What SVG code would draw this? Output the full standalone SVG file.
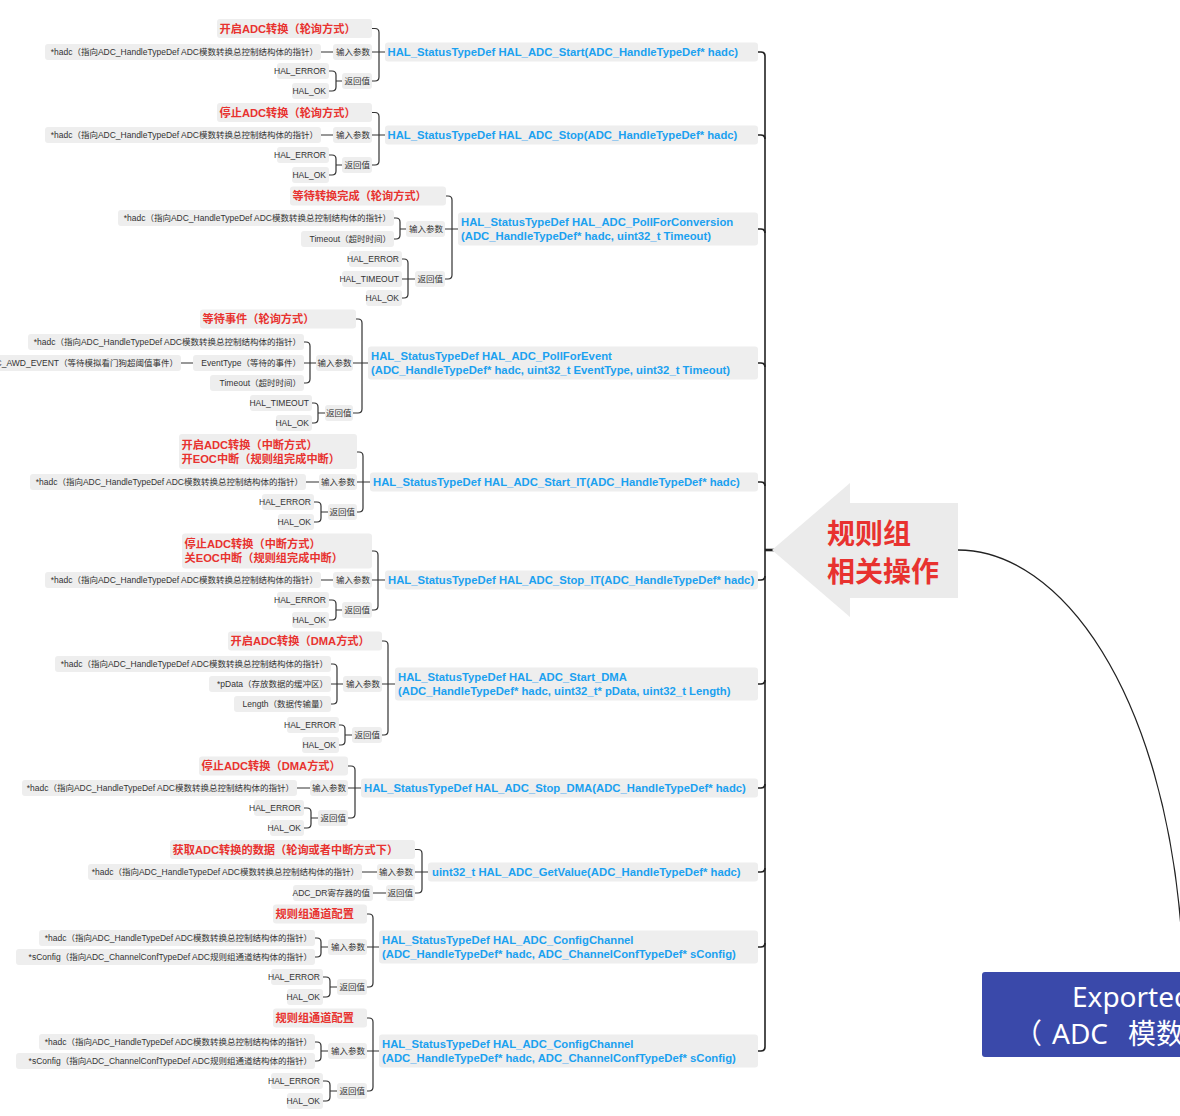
<svg xmlns="http://www.w3.org/2000/svg" width="1180" height="1116" viewBox="0 0 1180 1116">
<style>
.b{fill:#eeeeee}
.s{font-family:"Liberation Sans","Noto Sans CJK SC",sans-serif;font-size:8.5px;fill:#333;text-anchor:end}
.r{font-family:"Liberation Sans","Noto Sans CJK SC",sans-serif;font-size:11.2px;font-weight:bold;fill:#e8322f}
.f{font-family:"Liberation Sans","Noto Sans CJK SC",sans-serif;font-size:11.3px;font-weight:bold;fill:#1ba1f0}
.c{fill:none;stroke:#333;stroke-width:1.2}
.sp{fill:none;stroke:#222;stroke-width:1.6}
</style>
<rect width="1180" height="1116" fill="#ffffff"/>

<g id="connectors">
<path class="c" d="M321,52H333M329,71H332Q336,71 336,75V87Q336,91 332,91H329M336,81H342M372,28.5H375Q379,28.5 379,32.5V77Q379,81 375,81H372M372,52H385"/>
<path class="c" d="M321,135H333M329,155H332Q336,155 336,159V171Q336,175 332,175H329M336,165H342M372,112.5H375Q379,112.5 379,116.5V161Q379,165 375,165H372M372,135H385"/>
<path class="c" d="M394,218H396Q400,218 400,222V235Q400,239 396,239H394M400,229H406M402,259H404Q408,259 408,263V294Q408,298 404,298H402M402,279H415M446,196H448Q452,196 452,200V275Q452,279 448,279H445M445,229H458"/>
<path class="c" d="M181,363H193M304,342H306Q310,342 310,346V379Q310,383 306,383H304M304,363H316M312,403H314Q318,403 318,407V419Q318,423 314,423H312M318,413H325M356,319H358Q362,319 362,323V409Q362,413 358,413H353M353,363H368"/>
<path class="c" d="M306,482H319M314,502H317Q321,502 321,506V518Q321,522 317,522H314M321,512H328M357,452H359Q363,452 363,456V508Q363,512 359,512H357M357,482H370"/>
<path class="c" d="M321,580H333M329,600H332Q336,600 336,604V616Q336,620 332,620H329M336,610H342M372,551H374Q378,551 378,555V606Q378,610 374,610H372M372,580H385"/>
<path class="c" d="M331,664H333Q337,664 337,668V700Q337,704 333,704H331M331,684H343M339,725H341Q345,725 345,729V741Q345,745 341,745H339M345,735H352M382,641H384Q388,641 388,645V731Q388,735 384,735H382M382,684H395"/>
<path class="c" d="M297,788H310M304,808H307Q311,808 311,812V824Q311,828 307,828H304M311,818H318M348,766H351Q355,766 355,770V814Q355,818 351,818H348M348,788H361"/>
<path class="c" d="M362,872H377M373,893H386M415,849.5H418Q422,849.5 422,853.5V889Q422,893 418,893H415M415,872H428"/>
<path class="c" d="M315,938H317Q321,938 321,942V953Q321,957 317,957H315M321,947H328M323,977H326Q330,977 330,981V993Q330,997 326,997H323M330,987H337M367,914H369Q373,914 373,918V983Q373,987 369,987H367M367,947H379"/>
<path class="c" d="M315,1042H317Q321,1042 321,1046V1057Q321,1061 317,1061H315M321,1051H328M323,1081H326Q330,1081 330,1085V1097Q330,1101 326,1101H323M330,1091H337M367,1018H369Q373,1018 373,1022V1087Q373,1091 369,1091H367M367,1051H379"/>
<path class="sp" d="M758,52H761Q765,52 765,56V1047Q765,1051 761,1051H758"/>
<path class="sp" d="M758,135H761Q765,135 765,139M758,229H761Q765,229 765,233M758,363H761Q765,363 765,367M758,482H761Q765,482 765,486"/>
<path class="sp" d="M758,580H761Q765,580 765,576M758,684H761Q765,684 765,680M758,788H761Q765,788 765,784M758,872H761Q765,872 765,868M758,947H761Q765,947 765,943"/>
<path d="M765,550H775" fill="none" stroke="#222" stroke-width="2.6"/>
<path d="M958,550C1060,550 1165,690 1182,940" fill="none" stroke="#222" stroke-width="1.3"/>
</g>

<g id="topic">
<polygon points="772,550 850,483 850,503 958,503 958,598 850,598 850,617" fill="#ebebeb"/>
<text x="827" y="544" font-family="Liberation Sans,'Noto Sans CJK SC',sans-serif" font-size="28" font-weight="bold" fill="#e8322f">规则组</text>
<text x="827" y="582" font-family="Liberation Sans,'Noto Sans CJK SC',sans-serif" font-size="28" font-weight="bold" fill="#e8322f">相关操作</text>
</g>

<g id="root">
<rect x="982" y="972" width="260" height="85" rx="3" fill="#3a49aa"/>
<text x="1072" y="1007" font-family="'Noto Sans','Noto Sans CJK SC',sans-serif" font-size="28" fill="#ffffff">Exported</text>
<text y="1044" font-family="'Noto Sans','Noto Sans CJK SC',sans-serif" font-size="28" fill="#ffffff"><tspan x="1014">（</tspan><tspan x="1052">ADC</tspan><tspan x="1128">模数</tspan></text>
</g>

<!-- G1 -->
<g id="g1-title"><rect class="b" x="217" y="19" width="155" height="19" rx="3"/><text class="r" x="219.5" y="32.6">开启ADC转换（轮询方式）</text></g>
<g id="g1-func"><rect class="b" x="385" y="42.5" width="373" height="19" rx="3"/><text class="f" x="387.5" y="56.2">HAL_StatusTypeDef HAL_ADC_Start(ADC_HandleTypeDef* hadc)</text></g>
<g id="g1-in"><rect class="b" x="333" y="44" width="39" height="16" rx="3"/><text class="s" x="370" y="55.1">输入参数</text></g>
<g id="g1-hadc"><rect class="b" x="45" y="44" width="276" height="16" rx="3"/><text class="s" x="318" y="55.1">*hadc（指向ADC_HandleTypeDef ADC模数转换总控制结构体的指针）</text></g>
<g id="g1-ret"><rect class="b" x="342" y="73" width="30" height="16" rx="3"/><text class="s" x="370" y="84.1">返回值</text></g>
<g id="g1-err"><rect class="b" x="277" y="63" width="52" height="16" rx="3"/><text class="s" x="326" y="74.1">HAL_ERROR</text></g>
<g id="g1-ok"><rect class="b" x="292" y="83" width="37" height="16" rx="3"/><text class="s" x="326" y="94.1">HAL_OK</text></g>

<!-- G2 -->
<g id="g2-title"><rect class="b" x="217" y="103" width="155" height="19" rx="3"/><text class="r" x="219.5" y="116.6">停止ADC转换（轮询方式）</text></g>
<g id="g2-func"><rect class="b" x="385" y="125.5" width="373" height="19" rx="3"/><text class="f" x="387.5" y="139.2">HAL_StatusTypeDef HAL_ADC_Stop(ADC_HandleTypeDef* hadc)</text></g>
<g id="g2-in"><rect class="b" x="333" y="127" width="39" height="16" rx="3"/><text class="s" x="370" y="138.1">输入参数</text></g>
<g id="g2-hadc"><rect class="b" x="45" y="127" width="276" height="16" rx="3"/><text class="s" x="318" y="138.1">*hadc（指向ADC_HandleTypeDef ADC模数转换总控制结构体的指针）</text></g>
<g id="g2-ret"><rect class="b" x="342" y="157" width="30" height="16" rx="3"/><text class="s" x="370" y="168.1">返回值</text></g>
<g id="g2-err"><rect class="b" x="277" y="147" width="52" height="16" rx="3"/><text class="s" x="326" y="158.1">HAL_ERROR</text></g>
<g id="g2-ok"><rect class="b" x="292" y="167" width="37" height="16" rx="3"/><text class="s" x="326" y="178.1">HAL_OK</text></g>

<!-- G3 -->
<g id="g3-title"><rect class="b" x="290" y="186.5" width="156" height="19" rx="3"/><text class="r" x="292.5" y="200.1">等待转换完成（轮询方式）</text></g>
<g id="g3-func"><rect class="b" x="458" y="212.5" width="300" height="33" rx="3"/><text class="f" x="461" y="226.2">HAL_StatusTypeDef HAL_ADC_PollForConversion</text><text class="f" x="461" y="240.2">(ADC_HandleTypeDef* hadc, uint32_t Timeout)</text></g>
<g id="g3-in"><rect class="b" x="406" y="221" width="39" height="16" rx="3"/><text class="s" x="443" y="232.1">输入参数</text></g>
<g id="g3-hadc"><rect class="b" x="118" y="210" width="276" height="16" rx="3"/><text class="s" x="391" y="221.1">*hadc（指向ADC_HandleTypeDef ADC模数转换总控制结构体的指针）</text></g>
<g id="g3-timeout"><rect class="b" x="301" y="231" width="93" height="16" rx="3"/><text class="s" x="391" y="242.1">Timeout（超时时间）</text></g>
<g id="g3-ret"><rect class="b" x="415" y="271" width="30" height="16" rx="3"/><text class="s" x="443" y="282.1">返回值</text></g>
<g id="g3-err"><rect class="b" x="349" y="251" width="53" height="16" rx="3"/><text class="s" x="399" y="262.1">HAL_ERROR</text></g>
<g id="g3-tmo"><rect class="b" x="342" y="271" width="60" height="16" rx="3"/><text class="s" x="399" y="282.1">HAL_TIMEOUT</text></g>
<g id="g3-ok"><rect class="b" x="366" y="290" width="36" height="16" rx="3"/><text class="s" x="399" y="301.1">HAL_OK</text></g>

<!-- G4 -->
<g id="g4-title"><rect class="b" x="200" y="309.5" width="156" height="19" rx="3"/><text class="r" x="202.5" y="323.1">等待事件（轮询方式）</text></g>
<g id="g4-func"><rect class="b" x="368" y="346.5" width="390" height="33" rx="3"/><text class="f" x="371" y="360.2">HAL_StatusTypeDef HAL_ADC_PollForEvent</text><text class="f" x="371" y="374.2">(ADC_HandleTypeDef* hadc, uint32_t EventType, uint32_t Timeout)</text></g>
<g id="g4-in"><rect class="b" x="316" y="355" width="37" height="16" rx="3"/><text class="s" x="351.5" y="366.1">输入参数</text></g>
<g id="g4-hadc"><rect class="b" x="28" y="334" width="276" height="16" rx="3"/><text class="s" x="301" y="345.1">*hadc（指向ADC_HandleTypeDef ADC模数转换总控制结构体的指针）</text></g>
<g id="g4-evt"><rect class="b" x="193" y="355" width="111" height="16" rx="3"/><text class="s" x="301" y="366.1">EventType（等待的事件）</text></g>
<g id="g4-awd"><rect class="b" x="-20" y="355" width="201" height="16" rx="3"/><text class="s" x="178" y="366.1">ADC_AWD_EVENT（等待模拟看门狗超阈值事件）</text></g>
<g id="g4-timeout"><rect class="b" x="210" y="375" width="94" height="16" rx="3"/><text class="s" x="301" y="386.1">Timeout（超时时间）</text></g>
<g id="g4-ret"><rect class="b" x="325" y="405" width="28" height="16" rx="3"/><text class="s" x="351.5" y="416.1">返回值</text></g>
<g id="g4-tmo"><rect class="b" x="250" y="395" width="62" height="16" rx="3"/><text class="s" x="309" y="406.1">HAL_TIMEOUT</text></g>
<g id="g4-ok"><rect class="b" x="276" y="415" width="36" height="16" rx="3"/><text class="s" x="309" y="426.1">HAL_OK</text></g>

<!-- G5 -->
<g id="g5-title"><rect class="b" x="179" y="434" width="178" height="35" rx="3"/><text class="r" x="181.5" y="449.1">开启ADC转换（中断方式）</text><text class="r" x="181.5" y="463.1">开EOC中断（规则组完成中断）</text></g>
<g id="g5-func"><rect class="b" x="370" y="472.5" width="388" height="19" rx="3"/><text class="f" x="373" y="486.2">HAL_StatusTypeDef HAL_ADC_Start_IT(ADC_HandleTypeDef* hadc)</text></g>
<g id="g5-in"><rect class="b" x="319" y="474" width="38" height="16" rx="3"/><text class="s" x="355" y="485.1">输入参数</text></g>
<g id="g5-hadc"><rect class="b" x="30" y="474" width="276" height="16" rx="3"/><text class="s" x="303" y="485.1">*hadc（指向ADC_HandleTypeDef ADC模数转换总控制结构体的指针）</text></g>
<g id="g5-ret"><rect class="b" x="328" y="504" width="29" height="16" rx="3"/><text class="s" x="355" y="515.1">返回值</text></g>
<g id="g5-err"><rect class="b" x="262" y="494" width="52" height="16" rx="3"/><text class="s" x="311" y="505.1">HAL_ERROR</text></g>
<g id="g5-ok"><rect class="b" x="278" y="514" width="36" height="16" rx="3"/><text class="s" x="311" y="525.1">HAL_OK</text></g>

<!-- G6 -->
<g id="g6-title"><rect class="b" x="182" y="533.5" width="190" height="35" rx="3"/><text class="r" x="184.5" y="547.6">停止ADC转换（中断方式）</text><text class="r" x="184.5" y="561.6">关EOC中断（规则组完成中断）</text></g>
<g id="g6-func"><rect class="b" x="385" y="570.5" width="373" height="19" rx="3"/><text class="f" x="388" y="584.2">HAL_StatusTypeDef HAL_ADC_Stop_IT(ADC_HandleTypeDef* hadc)</text></g>
<g id="g6-in"><rect class="b" x="333" y="572" width="39" height="16" rx="3"/><text class="s" x="370" y="583.1">输入参数</text></g>
<g id="g6-hadc"><rect class="b" x="45" y="572" width="276" height="16" rx="3"/><text class="s" x="318" y="583.1">*hadc（指向ADC_HandleTypeDef ADC模数转换总控制结构体的指针）</text></g>
<g id="g6-ret"><rect class="b" x="342" y="602" width="30" height="16" rx="3"/><text class="s" x="370" y="613.1">返回值</text></g>
<g id="g6-err"><rect class="b" x="277" y="592" width="52" height="16" rx="3"/><text class="s" x="326" y="603.1">HAL_ERROR</text></g>
<g id="g6-ok"><rect class="b" x="292" y="612" width="37" height="16" rx="3"/><text class="s" x="326" y="623.1">HAL_OK</text></g>

<!-- G7 -->
<g id="g7-title"><rect class="b" x="228" y="631.5" width="154" height="19" rx="3"/><text class="r" x="230.5" y="645.1">开启ADC转换（DMA方式）</text></g>
<g id="g7-func"><rect class="b" x="395" y="667.5" width="363" height="33" rx="3"/><text class="f" x="398" y="681.2">HAL_StatusTypeDef HAL_ADC_Start_DMA</text><text class="f" x="398" y="695.2">(ADC_HandleTypeDef* hadc, uint32_t* pData, uint32_t Length)</text></g>
<g id="g7-in"><rect class="b" x="343" y="676" width="39" height="16" rx="3"/><text class="s" x="380" y="687.1">输入参数</text></g>
<g id="g7-hadc"><rect class="b" x="55" y="656" width="276" height="16" rx="3"/><text class="s" x="328" y="667.1">*hadc（指向ADC_HandleTypeDef ADC模数转换总控制结构体的指针）</text></g>
<g id="g7-pdata"><rect class="b" x="209" y="676" width="122" height="16" rx="3"/><text class="s" x="328" y="687.1">*pData（存放数据的缓冲区）</text></g>
<g id="g7-len"><rect class="b" x="234" y="696" width="97" height="16" rx="3"/><text class="s" x="328" y="707.1">Length（数据传输量）</text></g>
<g id="g7-ret"><rect class="b" x="352" y="727" width="30" height="16" rx="3"/><text class="s" x="380" y="738.1">返回值</text></g>
<g id="g7-err"><rect class="b" x="287" y="717" width="52" height="16" rx="3"/><text class="s" x="336" y="728.1">HAL_ERROR</text></g>
<g id="g7-ok"><rect class="b" x="302" y="737" width="37" height="16" rx="3"/><text class="s" x="336" y="748.1">HAL_OK</text></g>

<!-- G8 -->
<g id="g8-title"><rect class="b" x="199" y="756.5" width="149" height="19" rx="3"/><text class="r" x="201.5" y="770.1">停止ADC转换（DMA方式）</text></g>
<g id="g8-func"><rect class="b" x="361" y="778.5" width="397" height="19" rx="3"/><text class="f" x="364" y="792.2">HAL_StatusTypeDef HAL_ADC_Stop_DMA(ADC_HandleTypeDef* hadc)</text></g>
<g id="g8-in"><rect class="b" x="310" y="780" width="38" height="16" rx="3"/><text class="s" x="346" y="791.1">输入参数</text></g>
<g id="g8-hadc"><rect class="b" x="22" y="780" width="275" height="16" rx="3"/><text class="s" x="294" y="791.1">*hadc（指向ADC_HandleTypeDef ADC模数转换总控制结构体的指针）</text></g>
<g id="g8-ret"><rect class="b" x="318" y="810" width="30" height="16" rx="3"/><text class="s" x="346" y="821.1">返回值</text></g>
<g id="g8-err"><rect class="b" x="254" y="800" width="50" height="16" rx="3"/><text class="s" x="301" y="811.1">HAL_ERROR</text></g>
<g id="g8-ok"><rect class="b" x="270" y="820" width="34" height="16" rx="3"/><text class="s" x="301" y="831.1">HAL_OK</text></g>

<!-- G9 -->
<g id="g9-title"><rect class="b" x="170" y="840" width="245" height="19" rx="3"/><text class="r" x="172.5" y="853.6">获取ADC转换的数据（轮询或者中断方式下）</text></g>
<g id="g9-func"><rect class="b" x="428" y="862.5" width="330" height="19" rx="3"/><text class="f" x="432" y="876.2">uint32_t HAL_ADC_GetValue(ADC_HandleTypeDef* hadc)</text></g>
<g id="g9-in"><rect class="b" x="377" y="864" width="38" height="16" rx="3"/><text class="s" x="413" y="875.1">输入参数</text></g>
<g id="g9-hadc"><rect class="b" x="88" y="864" width="274" height="16" rx="3"/><text class="s" x="359" y="875.1">*hadc（指向ADC_HandleTypeDef ADC模数转换总控制结构体的指针）</text></g>
<g id="g9-ret"><rect class="b" x="386" y="885" width="29" height="16" rx="3"/><text class="s" x="413" y="896.1">返回值</text></g>
<g id="g9-dr"><rect class="b" x="293" y="885" width="80" height="16" rx="3"/><text class="s" x="370" y="896.1">ADC_DR寄存器的值</text></g>

<!-- G10 -->
<g id="g10-title"><rect class="b" x="273" y="904.5" width="94" height="19" rx="3"/><text class="r" x="275.5" y="918.1">规则组通道配置</text></g>
<g id="g10-func"><rect class="b" x="379" y="930.5" width="379" height="33" rx="3"/><text class="f" x="382" y="944.2">HAL_StatusTypeDef HAL_ADC_ConfigChannel</text><text class="f" x="382" y="958.2">(ADC_HandleTypeDef* hadc, ADC_ChannelConfTypeDef* sConfig)</text></g>
<g id="g10-in"><rect class="b" x="328" y="939" width="39" height="16" rx="3"/><text class="s" x="365" y="950.1">输入参数</text></g>
<g id="g10-hadc"><rect class="b" x="39" y="930" width="276" height="16" rx="3"/><text class="s" x="312" y="941.1">*hadc（指向ADC_HandleTypeDef ADC模数转换总控制结构体的指针）</text></g>
<g id="g10-scfg"><rect class="b" x="16" y="949" width="299" height="16" rx="3"/><text class="s" x="312" y="960.1">*sConfig（指向ADC_ChannelConfTypeDef ADC规则组通道结构体的指针）</text></g>
<g id="g10-ret"><rect class="b" x="337" y="979" width="30" height="16" rx="3"/><text class="s" x="365" y="990.1">返回值</text></g>
<g id="g10-err"><rect class="b" x="271" y="969" width="52" height="16" rx="3"/><text class="s" x="320" y="980.1">HAL_ERROR</text></g>
<g id="g10-ok"><rect class="b" x="287" y="989" width="36" height="16" rx="3"/><text class="s" x="320" y="1000.1">HAL_OK</text></g>

<!-- G11 -->
<g id="g11-title"><rect class="b" x="273" y="1008.5" width="94" height="19" rx="3"/><text class="r" x="275.5" y="1022.1">规则组通道配置</text></g>
<g id="g11-func"><rect class="b" x="379" y="1034.5" width="379" height="33" rx="3"/><text class="f" x="382" y="1048.2">HAL_StatusTypeDef HAL_ADC_ConfigChannel</text><text class="f" x="382" y="1062.2">(ADC_HandleTypeDef* hadc, ADC_ChannelConfTypeDef* sConfig)</text></g>
<g id="g11-in"><rect class="b" x="328" y="1043" width="39" height="16" rx="3"/><text class="s" x="365" y="1054.1">输入参数</text></g>
<g id="g11-hadc"><rect class="b" x="39" y="1034" width="276" height="16" rx="3"/><text class="s" x="312" y="1045.1">*hadc（指向ADC_HandleTypeDef ADC模数转换总控制结构体的指针）</text></g>
<g id="g11-scfg"><rect class="b" x="16" y="1053" width="299" height="16" rx="3"/><text class="s" x="312" y="1064.1">*sConfig（指向ADC_ChannelConfTypeDef ADC规则组通道结构体的指针）</text></g>
<g id="g11-ret"><rect class="b" x="337" y="1083" width="30" height="16" rx="3"/><text class="s" x="365" y="1094.1">返回值</text></g>
<g id="g11-err"><rect class="b" x="271" y="1073" width="52" height="16" rx="3"/><text class="s" x="320" y="1084.1">HAL_ERROR</text></g>
<g id="g11-ok"><rect class="b" x="287" y="1093" width="36" height="16" rx="3"/><text class="s" x="320" y="1104.1">HAL_OK</text></g>
</svg>
